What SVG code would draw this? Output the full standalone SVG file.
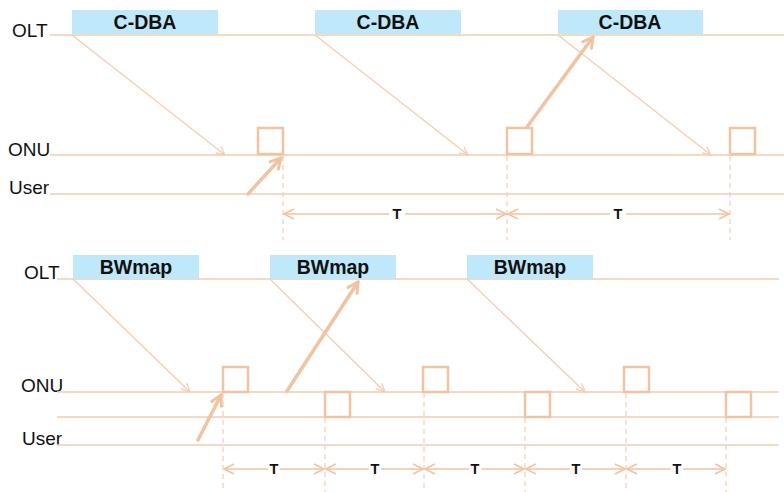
<svg xmlns="http://www.w3.org/2000/svg" width="784" height="492" viewBox="0 0 784 492">
<style>
.lbl{font-family:"Liberation Sans",Arial,sans-serif;font-size:19px;fill:#111}
.hdr{font-family:"Liberation Sans",Arial,sans-serif;font-size:19.5px;font-weight:bold;fill:#111;text-anchor:middle}
.t{font-family:"Liberation Sans",Arial,sans-serif;font-size:14.5px;font-weight:bold;fill:#111;text-anchor:middle}
.ax{stroke:#F3CDB1;stroke-width:1.5;fill:none}
.thin{stroke:#F3CDB1;stroke-width:1.3;fill:none;marker-end:url(#ah)}
.thick{stroke:#F0C3A2;stroke-width:3.5;fill:none;stroke-linecap:round;marker-end:url(#ahb)}
.dash{stroke:#F3CDB1;stroke-width:1.2;stroke-dasharray:5 4;fill:none}
.dim{stroke:#F0C3A2;stroke-width:1.6;fill:none;marker-end:url(#ad)}
.box{fill:#fff;stroke:#F0C3A2;stroke-width:2.5}
.blue{fill:#BFE9FA}
</style>
<defs>
<marker id="ah" viewBox="0 0 10 10" refX="9.5" refY="5" markerWidth="10" markerHeight="10" markerUnits="userSpaceOnUse" orient="auto"><path d="M1,1 L9.5,5 L1,9" fill="none" stroke="#F3CDB1" stroke-width="1.3"/></marker>
<marker id="ahb" viewBox="0 0 14 14" refX="12" refY="7" markerWidth="14" markerHeight="14" markerUnits="userSpaceOnUse" orient="auto"><path d="M2,1.5 L12,7 L2,12.5" fill="none" stroke="#F0C3A2" stroke-width="3" stroke-linecap="round" stroke-linejoin="round"/></marker>
<marker id="ad" viewBox="0 0 12 12" refX="11" refY="6" markerWidth="12" markerHeight="12" markerUnits="userSpaceOnUse" orient="auto-start-reverse"><path d="M1,1 L11,6 L1,11" fill="none" stroke="#F0C3A2" stroke-width="1.6"/></marker>
</defs>

<g id="top-axes">
<text class="lbl" x="12" y="37">OLT</text>
<text class="lbl" x="8" y="156">ONU</text>
<text class="lbl" x="9" y="194">User</text>
<line class="ax" x1="50" y1="35" x2="784" y2="35"/>
<line class="ax" x1="50" y1="155" x2="784" y2="155"/>
<line class="ax" x1="50" y1="194" x2="784" y2="194"/>
</g>
<g id="top-cdba">
<rect class="blue" x="72" y="10" width="146" height="24"/><text class="hdr" x="145" y="29">C-DBA</text>
<rect class="blue" x="315" y="10" width="146" height="24"/><text class="hdr" x="388" y="29">C-DBA</text>
<rect class="blue" x="558" y="10" width="145" height="24"/><text class="hdr" x="630" y="29">C-DBA</text>
</g>
<g id="top-boxes">
<rect class="box" x="258" y="128" width="25" height="26"/>
<rect class="box" x="507" y="128" width="25" height="26"/>
<rect class="box" x="730" y="128" width="25" height="26"/>
</g>
<g id="top-connectors">
<line class="thin" x1="72" y1="35" x2="225" y2="155"/>
<line class="thin" x1="315" y1="35" x2="468" y2="155"/>
<line class="thin" x1="558" y1="35" x2="711" y2="155"/>
<line class="thick" x1="248" y1="194" x2="281" y2="158"/>
<line class="thick" x1="527" y1="127" x2="593" y2="37"/>
<line class="dash" x1="283" y1="156" x2="283" y2="240"/>
<line class="dash" x1="507" y1="156" x2="507" y2="240"/>
<line class="dash" x1="730" y1="156" x2="730" y2="240"/>
<line class="dim" x1="389" y1="214" x2="284" y2="214"/>
<line class="dim" x1="405" y1="214" x2="506" y2="214"/>
<line class="dim" x1="610" y1="214" x2="508" y2="214"/>
<line class="dim" x1="626" y1="214" x2="729" y2="214"/>
<text class="t" x="397" y="219">T</text>
<text class="t" x="618" y="219">T</text>
</g>

<g id="bottom-axes">
<text class="lbl" x="24" y="279">OLT</text>
<text class="lbl" x="21" y="392">ONU</text>
<text class="lbl" x="22" y="445">User</text>
<line class="ax" x1="57" y1="279" x2="779" y2="279"/>
<line class="ax" x1="57" y1="392" x2="779" y2="392"/>
<line class="ax" x1="57" y1="417" x2="779" y2="417"/>
<line class="ax" x1="57" y1="445" x2="779" y2="445"/>
</g>
<g id="bottom-bwmap">
<rect class="blue" x="73" y="255" width="126" height="24"/><text class="hdr" x="136" y="274">BWmap</text>
<rect class="blue" x="270" y="255" width="126" height="24"/><text class="hdr" x="333" y="274">BWmap</text>
<rect class="blue" x="467" y="255" width="126" height="24"/><text class="hdr" x="530" y="274">BWmap</text>
</g>
<g id="bottom-boxes">
<rect class="box" x="223" y="367" width="25" height="25"/>
<rect class="box" x="423" y="367" width="25" height="25"/>
<rect class="box" x="624" y="367" width="25" height="25"/>
<rect class="box" x="325" y="392" width="25" height="25"/>
<rect class="box" x="525" y="392" width="25" height="25"/>
<rect class="box" x="726" y="392" width="25" height="25"/>
</g>
<g id="bottom-connectors">
<line class="thin" x1="73" y1="279" x2="190" y2="392"/>
<line class="thin" x1="270" y1="279" x2="385" y2="392"/>
<line class="thin" x1="467" y1="279" x2="585" y2="392"/>
<line class="thick" x1="198" y1="440" x2="221" y2="395"/>
<line class="thick" x1="287" y1="391" x2="358" y2="282"/>
<line class="dash" x1="223" y1="393" x2="223" y2="492"/>
<line class="dash" x1="325" y1="418" x2="325" y2="492"/>
<line class="dash" x1="424" y1="393" x2="424" y2="492"/>
<line class="dash" x1="525" y1="418" x2="525" y2="492"/>
<line class="dash" x1="626" y1="393" x2="626" y2="492"/>
<line class="dash" x1="726" y1="418" x2="726" y2="492"/>
<line class="dim" x1="268" y1="469" x2="224" y2="469"/>
<line class="dim" x1="280" y1="469" x2="324" y2="469"/>
<line class="dim" x1="369" y1="469" x2="326" y2="469"/>
<line class="dim" x1="381" y1="469" x2="423" y2="469"/>
<line class="dim" x1="469" y1="469" x2="425" y2="469"/>
<line class="dim" x1="481" y1="469" x2="524" y2="469"/>
<line class="dim" x1="570" y1="469" x2="526" y2="469"/>
<line class="dim" x1="582" y1="469" x2="625" y2="469"/>
<line class="dim" x1="671" y1="469" x2="627" y2="469"/>
<line class="dim" x1="683" y1="469" x2="725" y2="469"/>
<text class="t" x="274" y="474">T</text>
<text class="t" x="375" y="474">T</text>
<text class="t" x="475" y="474">T</text>
<text class="t" x="576" y="474">T</text>
<text class="t" x="677" y="474">T</text>
</g>
</svg>
